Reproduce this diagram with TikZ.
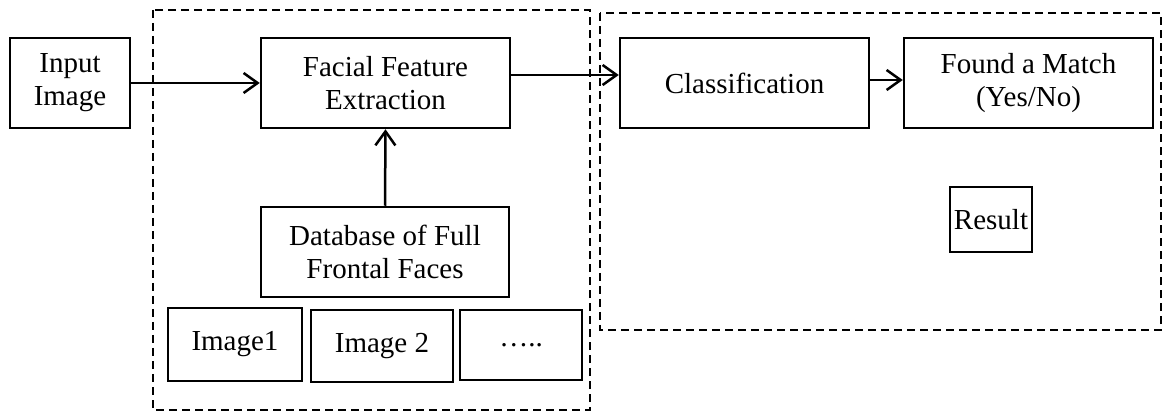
\documentclass[tikz,border=0pt]{standalone}
\usepackage{fontspec}
\setmainfont{Liberation Serif}
\usetikzlibrary{arrows.meta}

\begin{document}
\begin{tikzpicture}[x=1pt,y=-1pt,line width=2.5pt]
	\tikzset{block/.style={draw,align=center,inner sep=0pt,font=\fontsize{29}{33}\selectfont}}
	\tikzset{groupbox/.style={draw,dash pattern=on 8pt off 5pt,line width=2.5pt}}
	\tikzset{flow/.style={-{Straight Barb[length=14pt,width=20pt,line width=2.5pt]}}}
	\useasboundingbox (0,0) rectangle (1163,414);

	% groups
	\draw[groupbox] (153,10) rectangle (590,410);
	\draw[groupbox] (600,13) rectangle (1161,330);

	\node[block,minimum width=120pt,minimum height=90pt] (input) at (70,83) {Input\\Image};
	\node[block,minimum width=249pt,minimum height=90pt] (ffe) at (385.5,83) {Facial Feature\\Extraction};
	\node[block,minimum width=249pt,minimum height=90pt] (cls) at (744.5,83) {Classification};
	\node[block,minimum width=249pt,minimum height=90pt] (match) at (1028.5,83) {Found a Match\\(Yes/No)};
	\node[block,minimum width=82pt,minimum height=65pt] (result) at (991,219.5) {Result};
	\node[block,minimum width=248pt,minimum height=90pt] (db) at (385,252) {Database of Full\\Frontal Faces};
	\node[block,minimum width=134pt,minimum height=73pt] (img1) at (235,344.5) {Image1};
	\node[block,minimum width=142pt,minimum height=72pt] (img2) at (382,346) {Image 2};
	\node[block,minimum width=122pt,minimum height=70pt] (more) at (521,345) {…..};

	\draw[flow] (input.east) -- (ffe.west);
	\draw[flow] ([yshift=8pt]ffe.east) -- ([yshift=8pt]cls.west);
	\draw[flow] ([yshift=3pt]cls.east) -- ([yshift=3pt]match.west);
	\draw[flow] (db.north) -- (ffe.south);
\end{tikzpicture}
\end{document}
